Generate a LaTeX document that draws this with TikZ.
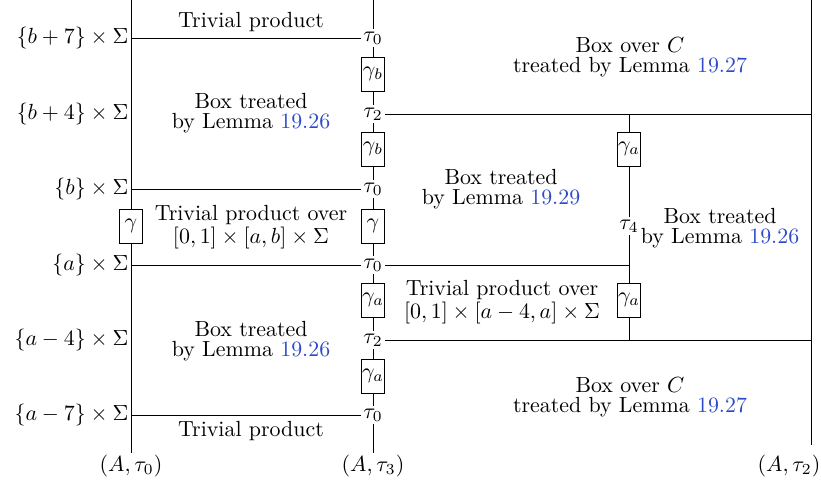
\documentclass[tikz,border=0pt]{standalone}
\definecolor{linkblue}{RGB}{45,75,200}
\newcommand{\lem}[1]{\textcolor{linkblue}{#1}}
\begin{document}
\begin{tikzpicture}[x=0.4566pt,y=-0.4566pt,
  tau/.style={inner sep=1pt},
  gbox/.style={draw,fill=white,inner xsep=0.2pt,inner ysep=0pt,minimum height=15.5pt,minimum width=10.5pt},
  txt/.style={align=center,inner sep=0pt,font=\fontsize{10pt}{9.3pt}\selectfont},
  lbl/.style={anchor=east,inner sep=1pt},
  bot/.style={inner sep=0pt}]
\useasboundingbox (0,0) rectangle (821,481);
% vertical line ends
\coordinate (L0) at (131,0);   \coordinate (Lend) at (131,453);
\coordinate (M0) at (373,0);   \coordinate (Mend) at (373,453);
\coordinate (R0) at (811,0);   \coordinate (Rend) at (811,445);
% tau nodes on middle line
\node[tau] (t1) at (373,38)  {$\tau_0$};
\node[tau] (t2) at (373,114) {$\tau_2$};
\node[tau] (t3) at (373,189) {$\tau_0$};
\node[tau] (t4) at (373,265) {$\tau_0$};
\node[tau] (t5) at (373,340) {$\tau_2$};
\node[tau] (t6) at (373,415) {$\tau_0$};
% gamma boxes on middle line
\node[gbox] (m1) at (373,74)  {$\gamma_b$};
\node[gbox] (m2) at (373,149) {$\gamma_b$};
\node[gbox] (m3) at (373,226) {$\gamma$};
\node[gbox] (m4) at (373,300) {$\gamma_a$};
\node[gbox] (m5) at (373,376) {$\gamma_a$};
% left gamma box
\node[gbox] (lg) at (131,226) {$\gamma$};
% left coordinates
\coordinate (l1) at (131,38);
\coordinate (l2) at (131,114);
\coordinate (l3) at (131,189);
\coordinate (l4) at (131,265);
\coordinate (l5) at (131,340);
\coordinate (l6) at (131,415);
% right coordinates
\coordinate (r2) at (811,114);
\coordinate (r5) at (811,340);
% inner line
\coordinate (i2) at (629,114);
\coordinate (i4) at (629,265);
\coordinate (i5) at (629,340);
\node[gbox] (ia1) at (629,149) {$\gamma_a$};
\node[tau] (t7) at (629,226) {$\tau_4$};
\node[gbox] (ia2) at (629,300) {$\gamma_a$};
% verticals
\draw (L0) -- (lg) -- (Lend);
\draw (M0) -- (t1) -- (m1) -- (t2) -- (m2) -- (t3) -- (m3) -- (t4) -- (m4) -- (t5) -- (m5) -- (t6) -- (Mend);
\draw (R0) -- (Rend);
\draw (i2) -- (ia1) -- (t7) -- (ia2) -- (i5);
% horizontals
\draw (l1) -- (t1);
\draw (t2) -- (r2);
\draw (l3) -- (t3);
\draw (l4) -- (t4) -- (i4);
\draw (t5) -- (r5);
\draw (l6) -- (t6);
% left labels
\node[lbl] (a1) at (l1) {$\{b+7\}\times\Sigma$};
\node[lbl] (a2) at (l2) {$\{b+4\}\times\Sigma$};
\node[lbl] (a3) at (l3) {$\{b\}\times\Sigma$};
\node[lbl] (a4) at (l4) {$\{a\}\times\Sigma$};
\node[lbl] (a5) at (l5) {$\{a-4\}\times\Sigma$};
\node[lbl] (a6) at (l6) {$\{a-7\}\times\Sigma$};
% bottom labels
\node[bot] (b1) at (131,466) {$(A,\tau_0)$};
\node[bot] (b2) at (373,466) {$(A,\tau_3)$};
\node[bot] (b3) at (789,466) {$(A,\tau_2)$};
% region texts
\node[txt] (x1) at (251,22)  {Trivial product};
\node[txt] (x2) at (251,113) {Box treated\\by Lemma \lem{19.26}};
\node[txt] (x3) at (251,227) {Trivial product over\\$[0,1]\times[a,b]\times\Sigma$};
\node[txt] (x4) at (251,341) {Box treated\\by Lemma \lem{19.26}};
\node[txt] (x5) at (251,431) {Trivial product};
\node[txt] (x6) at (630,57)  {Box over $C$\\treated by Lemma \lem{19.27}};
\node[txt] (x7) at (501,189) {Box treated\\by Lemma \lem{19.29}};
\node[txt] (x8) at (720,228) {Box treated\\by Lemma \lem{19.26}};
\node[txt] (x9) at (502,302) {Trivial product over\\$[0,1]\times[a-4,a]\times\Sigma$};
\node[txt] (x10) at (630,397) {Box over $C$\\treated by Lemma \lem{19.27}};
\end{tikzpicture}
\end{document}
